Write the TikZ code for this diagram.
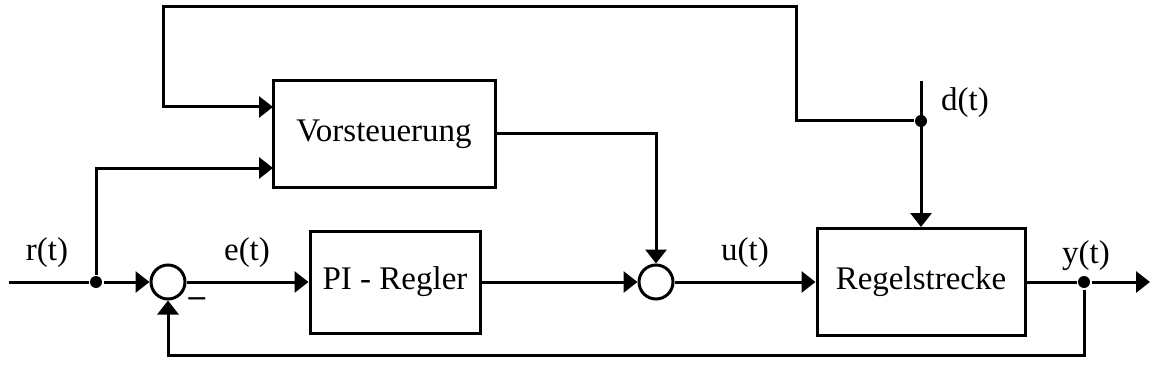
\documentclass[tikz,border=0pt]{standalone}
\usepackage{fontspec}
\setmainfont{Liberation Serif}
\usetikzlibrary{arrows.meta}
\begin{document}
\begin{tikzpicture}[x=1pt,y=-1pt,line width=3pt,>={Triangle[length=14pt,width=21pt]},
  every node/.style={font=\fontsize{33}{40}\selectfont,inner sep=1pt},
  block/.style={draw,rectangle,inner sep=0pt},
  sumpt/.style={draw,circle,minimum size=34pt,inner sep=0pt},
  dot/.style={circle,fill,minimum size=12pt,inner sep=0pt}]
  \path[use as bounding box] (0,0) rectangle (1151,385);
  % blocks
  \node[block,minimum width=222pt,minimum height=106pt] (vor) at (384,134) {Vorsteuerung};
  \node[block,minimum width=170pt,minimum height=102pt] (pi) at (395,282) {PI - Regler};
  \node[block,minimum width=208pt,minimum height=107pt] (reg) at (921,282) {Regelstrecke};
  \node[sumpt] (sum1) at (168,282) {};
  \node[sumpt] (sum2) at (656,282) {};
  % branch points
  \node[dot] (rdot) at (96,282) {};
  \node[dot] (ddot) at (921,121) {};
  \node[dot] (ydot) at (1084,282) {};
  \coordinate (rin) at (9,282);
  \coordinate (din) at (921,81);
  \coordinate (yout) at (1150,282);
  \coordinate (V1) at (273,107);
  \coordinate (V2) at (273,168);
  % signals
  \draw (rin) -- (rdot);
  \draw[->] (rdot) -- (sum1.west);
  \draw[->] (rdot) |- (V2);
  \draw[->] (sum1.east) -- (pi.west);
  \draw[->] (pi.east) -- (sum2.west);
  \draw[->] (sum2.east) -- (reg.west);
  \draw[->] (vor.east) -| (sum2.north);
  \draw[->] (din) -- (reg.north);
  \draw[->] (ddot) -- (796,121) -- (796,7) -- (163,7) |- (V1);
  \draw (reg.east) -- (ydot);
  \draw[->] (ydot) -- (yout);
  \draw[->] (ydot) -- (1084,355) -| (sum1.south);
  % labels
  \node (rlab) at (47,253) {r(t)};
  \node (elab) at (247,253) {e(t)};
  \node (ulab) at (745,253) {u(t)};
  \node (ylab) at (1086,256) {y(t)};
  \node (dlab) at (965,103) {d(t)};
  \node (minus) at (197,302) {\textbf{–}};
\end{tikzpicture}
\end{document}
